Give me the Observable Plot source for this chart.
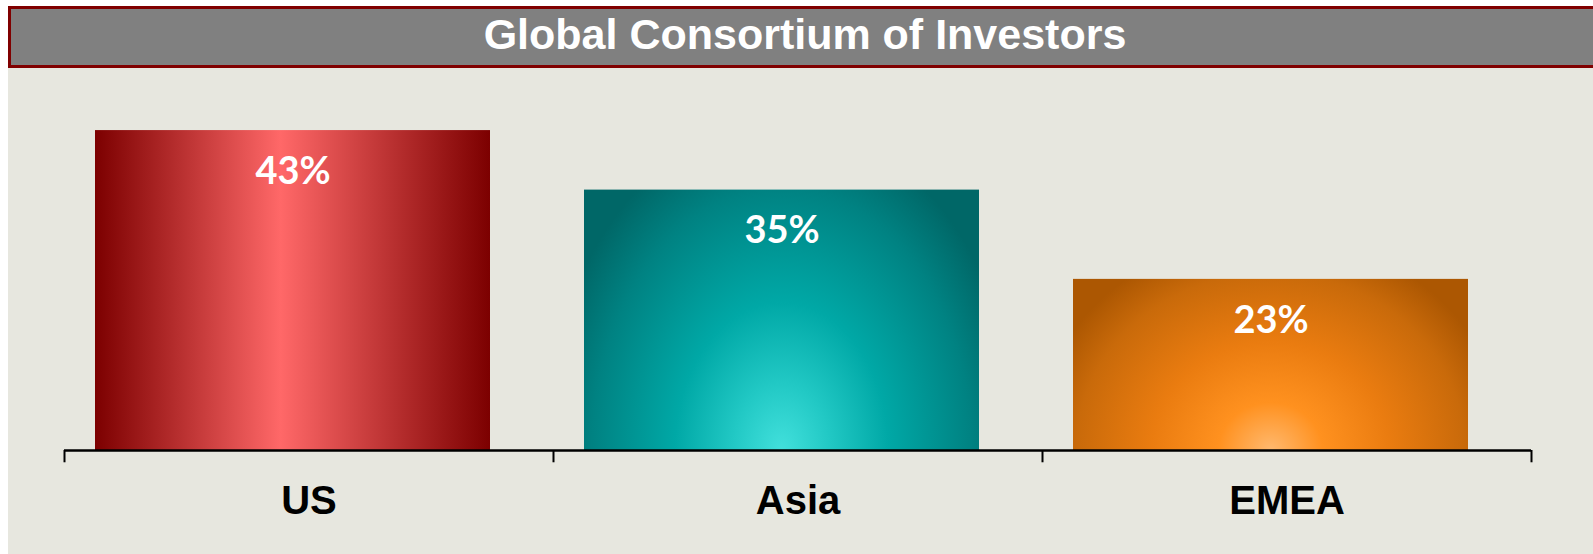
<!DOCTYPE html>
<html>
<head>
<meta charset="utf-8">
<script src="https://cdn.jsdelivr.net/npm/d3@7"></script>
<script src="https://cdn.jsdelivr.net/npm/@observablehq/plot@0.6"></script>
<style>
  html, body { margin: 0; padding: 0; background: #ffffff; }
  #panel { position: absolute; left: 8px; top: 6px; width: 1585px; height: 548px; background: #E7E7DF; overflow: hidden; }
  #title { box-sizing: border-box; height: 62px; width: 1590px; background: #808080; border: 3px solid #800000;
           color: #ffffff; font-family: "Liberation Sans", Arial, sans-serif; font-weight: bold; font-size: 43px;
           line-height: 50px; text-align: center; padding-left: 4px; }
  #chart svg { display: block; }
</style>
</head>
<body>
<div id="panel">
  <div id="title">Global Consortium of Investors</div>
  <div id="chart"></div>
</div>
<script>
const regions = ["US", "Asia", "EMEA"];
const shares = [43, 35, 23];
const shareLabels = ["43%", "35%", "23%"];
const gradientIds = ["gUS", "gAsia", "gEMEA"];

const data = regions.map((r, i) => ({region: r, share: shares[i], label: shareLabels[i]}));

const W = 1585, H = 486, mL = 56, mR = 62, mT = 10, mB = 104;
const step = (W - mL - mR) / regions.length;

const chart = Plot.plot({
  width: W,
  height: H,
  marginLeft: mL,
  marginRight: mR,
  marginTop: mT,
  marginBottom: mB,
  style: {background: "transparent", overflow: "visible"},
  x: {domain: regions, padding: 0, axis: null},
  y: {domain: [0, 50], axis: null},
  color: {type: "ordinal", domain: regions, range: gradientIds.map(id => `url(#${id})`)},
  marks: [
    Plot.barY(data, {x: "region", y: "share", fill: "region", insetLeft: 31, insetRight: 63}),
    Plot.ruleY([0], {stroke: "#000", strokeWidth: 2.5}),
    Plot.ruleX(regions, {x: d => d, y1: 0, y2: -1.65, dx: -step / 2, stroke: "#000", strokeWidth: 2}),
    Plot.ruleX(regions.slice(-1), {x: d => d, y1: 0, y2: -1.65, dx: step / 2, stroke: "#000", strokeWidth: 2}),
    Plot.text(data, {x: "region", y: "share", text: "label", dx: -16, dy: 41, fill: "#ffffff",
      fontSize: 38, fontWeight: "bold", fontFamily: "Lato, 'Open Sans', sans-serif"}),
    Plot.text(data, {x: "region", y: 0, text: "region", dy: 51, fill: "#000000",
      fontSize: 40, fontWeight: "bold", fontFamily: "'Liberation Sans', Arial, sans-serif"})
  ]
});

document.getElementById("chart").appendChild(chart);

const svg = d3.select(chart);
const defs = svg.insert("defs", ":first-child");

const gUS = defs.append("linearGradient").attr("id", "gUS")
  .attr("x1", 0).attr("y1", 0).attr("x2", 1).attr("y2", 0);
[[0, "#7C0000"], [0.47, "#FF6868"], [1, "#7C0000"]].forEach(([o, c]) =>
  gUS.append("stop").attr("offset", o).attr("stop-color", c));

function radial(id, stops) {
  const g = defs.append("radialGradient").attr("id", id)
    .attr("cx", 0.5).attr("cy", 1).attr("r", 0.6).attr("fx", 0.5).attr("fy", 1)
    .attr("gradientTransform", "translate(0.5,1) scale(1,2.1) translate(-0.5,-1)");
  stops.forEach(([o, c]) => g.append("stop").attr("offset", o).attr("stop-color", c));
}
radial("gAsia", [[0, "#42E0DC"], [0.2, "#22C9C5"], [0.45, "#00A8A6"], [0.8, "#008282"], [1, "#006767"]]);
radial("gEMEA", [[0, "#FFB96F"], [0.22, "#FF911F"], [0.5, "#EA7C10"], [0.82, "#C96A0A"], [1, "#AC5702"]]);
</script>
</body>
</html>
